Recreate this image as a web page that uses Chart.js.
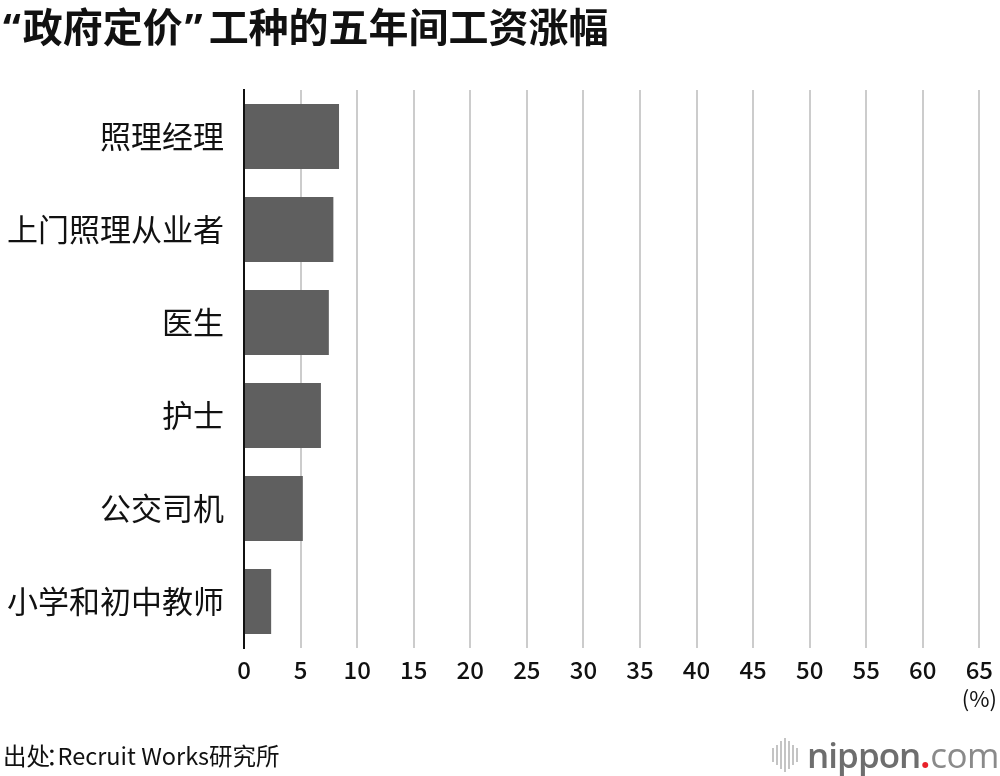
<!DOCTYPE html>
<html>
<head>
<meta charset="utf-8">
<script src="https://cdn.jsdelivr.net/npm/chart.js@4"></script>
<style>
  body { margin: 0; background: #fff; }
  #wrap { position: relative; width: 1000px; height: 776px; overflow: hidden; font-family: "Noto Sans CJK SC", "Noto Sans", sans-serif; }
  #chart { position: absolute; left: 0; top: 0; }
  .txt { position: absolute; white-space: nowrap; color: #111; }
  #title { left: 3px; top: 0; font-size: 40px; font-weight: 700; line-height: 50px; }
  #title .q { font-family: "Noto Sans", sans-serif; font-weight: 700; margin-right: 2px; }
  #title .q2 { margin: 0 6px 0 2px; }
  #unit { right: 3px; top: 684px; font-size: 22px; line-height: 26px; }
  #source { left: 3px; top: 740px; font-size: 23.5px; line-height: 30px; }
  #source .colon { margin: 0 -12px 0 -4px; }
  #logo { position: absolute; right: 1px; top: 733px; height: 44px; display: flex; align-items: center; }
  #waves { display: flex; align-items: center; gap: 2px; margin-right: 9px; }
  #waves span { display: block; width: 2px; background: #c4c4c4; }
  #logo span.t { font-family: "Open Sans", sans-serif; font-size: 35px; line-height: 44px; }
  #logo .nip { font-weight: 600; color: #6e6e6e; letter-spacing: -1px; }
  #logo .dot { color: #e8212a; font-weight: 700; }
  #logo .com { font-weight: 400; color: #8a8a8a; letter-spacing: -0.5px; }
</style>
</head>
<body>
<div id="wrap">
  <canvas id="chart" width="1000" height="776"></canvas>
  <div class="txt" id="title"><span class="q">“</span>政府定价<span class="q q2">”</span>工种的五年间工资涨幅</div>
  <div class="txt" id="unit">(%)</div>
  <div class="txt" id="source">出处<span class="colon">：</span>Recruit Works研究所</div>
  <div id="logo">
    <div id="waves"></div>
    <span class="t nip">nippon</span><span class="t dot">.</span><span class="t com">com</span>
  </div>
</div>
<script>
// data
const jobs = ['照理经理', '上门照理从业者', '医生', '护士', '公交司机', '小学和初中教师']
const raise = [8.4, 7.9, 7.5, 6.8, 5.2, 2.4]
const xTicks = [0, 5, 10, 15, 20, 25, 30, 35, 40, 45, 50, 55, 60, 65]

// little sound-wave mark in front of the logo
const waveHeights = [14, 20, 28, 34, 28, 20, 14]
const waves = document.getElementById('waves')
waveHeights.forEach(h => {
  let s = document.createElement('span')
  s.style.height = h + 'px'
  waves.appendChild(s)
})

const font = '"Noto Sans CJK SC", "Noto Sans", sans-serif'

new Chart(document.getElementById('chart'), {
  type: 'bar',
  data: {
    labels: jobs,
    datasets: [{
      data: raise,
      backgroundColor: '#5f5f5f',
      borderWidth: 0,
      barPercentage: 0.7,
      categoryPercentage: 1,
    }]
  },
  options: {
    indexAxis: 'y',
    responsive: false,
    animation: false,
    devicePixelRatio: 1,
    layout: { padding: { top: 90, right: 16, left: 0, bottom: 0 } },
    plugins: {
      legend: { display: false },
      tooltip: { enabled: false },
    },
    scales: {
      x: {
        min: 0,
        max: 65,
        afterBuildTicks: scale => { scale.ticks = xTicks.map(v => ({ value: v })) },
        afterFit: scale => { scale.height = 128 },
        grid: { color: '#cccccc', lineWidth: 2, drawTicks: false },
        border: { display: false },
        ticks: {
          padding: 7,
          color: '#111',
          font: { family: font, size: 24, weight: 500 },
        }
      },
      y: {
        afterFit: scale => { scale.width = 244 },
        grid: { display: false, drawTicks: false },
        border: { display: true, color: '#111', width: 2 },
        ticks: {
          padding: 20,
          color: '#111',
          font: { family: font, size: 31 },
        }
      }
    }
  }
})
</script>
</body>
</html>
